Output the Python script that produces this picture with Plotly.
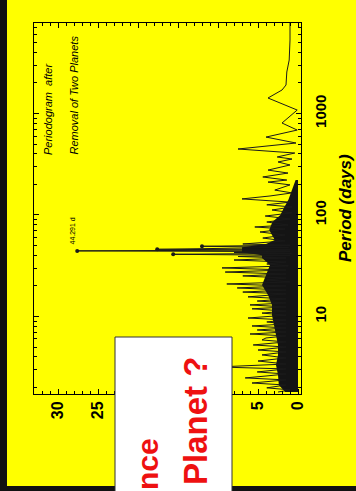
import plotly.graph_objects as go

# ---------------- data ----------------
period_days = [7790, 5300, 3365, 2565, 1910, 1705, 1422, 1082, 806, 687,
               586, 512, 447, 408, 373, 356, 333, 311, 277, 259,
               237, 221, 211, 198, 176, 165, 154, 144, 134, 126,
               120, 112, 105, 97.7, 91.4, 85.3, 79.7, 76.2, 72.8, 68.0,
               63.5, 59.3, 55.5, 51.8, 50.3, 49.2, 47.9, 45.9, 45.2, 44.291,
               43.6, 42.7, 41.9, 41.0, 40.1, 39.0, 37.7, 36.0, 34.4, 32.9,
               31.5, 30.1, 28.7, 27.4, 26.2, 25.1, 23.9, 22.9, 21.9, 20.9,
               20.0, 19.1, 18.2, 17.4, 16.7, 15.6, 14.9, 14.2, 13.6, 13.0,
               12.4, 11.9, 11.3, 10.8, 10.3, 9.66, 9.24, 8.83, 8.44, 8.06,
               7.70, 7.36, 7.03, 6.72, 6.43, 6.14, 5.87, 5.61, 5.24, 5.00,
               4.67, 4.47, 4.18, 3.90, 3.64, 3.40, 3.18, 3.04, 2.84, 2.71,
               2.59, 2.48, 2.37, 2.21, 2.11, 1.98, 1.89, 1.80]
power = [1.0, 1.0, 1.1, 1.4, 1.5, 2.0, 3.75, 0.1, 2.0, 0.1,
         4.0, 0.25, 7.5, 0.4, 2.6, 0.75, 2.5, 1.0, 3.75, 1.25,
         4.4, 1.4, 3.75, 1.0, 2.9, 0.75, 3.5, 7.0, 1.0, 3.9,
         0.75, 3.25, 0.75, 4.1, 1.0, 3.9, 1.25, 5.4, 1.6, 4.75,
         1.6, 4.4, 1.6, 6.9, 1.0, 12.0, 1.2, 17.6, 1.0, 27.6,
         1.0, 8.0, 0.8, 15.6, 1.0, 7.5, 1.5, 8.0, 1.5, 3.9,
         1.2, 9.5, 1.5, 9.1, 1.5, 6.9, 1.5, 3.9, 1.0, 8.9,
         1.5, 7.6, 1.5, 6.9, 1.5, 6.25, 1.5, 5.1, 1.5, 6.0,
         1.5, 5.75, 1.5, 4.5, 1.5, 6.25, 1.5, 3.9, 1.5, 5.75,
         1.5, 5.1, 1.5, 6.0, 1.5, 4.0, 4.5, 1.5, 5.6, 1.5,
         5.0, 1.5, 4.5, 1.5, 5.0, 1.5, 10.0, 1.5, 5.1, 1.5,
         4.0, 6.6, 1.5, 5.75, 1.5, 3.9, 1.0, 2.5]

# dense (blackened) core of the periodogram
core_period = [221, 176, 141, 112, 100, 85.3, 71.1, 56.7, 51.8, 48.0,
               43.0, 40.1, 37.7, 32.2, 25.6, 20.4, 16.3, 13.0, 10.3, 8.25,
               6.57, 5.24, 4.18, 3.33, 2.65, 2.11, 1.80]
core_power = [0.3, 0.8, 1.2, 1.9, 2.2, 3.2, 3.6, 2.9, 4.0, 7.0,
              7.0, 4.5, 4.5, 3.5, 4.0, 4.5, 3.75, 3.25, 3.25, 3.0,
              2.75, 2.5, 2.5, 2.75, 2.5, 2.4, 1.6]

peak_period = [49.2, 45.9, 44.291, 41.0]
peak_power = [12.0, 17.6, 27.6, 15.6]

power_ticks = [0, 5, 10, 15, 20, 25, 30]
period_ticks = [10, 100, 1000]
period_minor = [2, 3, 4, 5, 6, 7, 8, 9, 20, 30, 40, 50, 60, 70, 80, 90,
                200, 300, 400, 500, 600, 700, 800, 900, 2000, 3000, 4000,
                5000, 6000, 7000, 8000, 9000]

# ---------------- layout helpers ----------------
W, H = 356, 491
L, R, T, B = 34, 55, 23, 97
PW, PH = W - L - R, H - T - B


def px(x):
    return (x - L) / PW


def py(y):
    return (H - B - y) / PH


YELLOW = "#FFFF00"

fig = go.Figure()
fig.add_trace(go.Scatter(x=core_power, y=core_period, mode="lines",
                         fill="tozerox", fillcolor="#141414",
                         line=dict(width=0, color="#141414"),
                         hoverinfo="skip", showlegend=False))
fig.add_trace(go.Scatter(x=power, y=period_days, mode="lines",
                         line=dict(color="#1a1a1a", width=1),
                         showlegend=False))
fig.add_trace(go.Scatter(x=peak_power, y=peak_period, mode="markers",
                         marker=dict(color="#1a1a1a", size=4),
                         showlegend=False))

axis_common = dict(showgrid=False, zeroline=False, showline=True,
                   linecolor="black", linewidth=1, mirror="allticks",
                   ticks="inside", ticklen=5, tickcolor="black",
                   tickangle=-90)

fig.update_layout(
    width=W, height=H,
    margin=dict(l=L, r=R, t=T, b=B, pad=0),
    paper_bgcolor=YELLOW, plot_bgcolor=YELLOW,
    showlegend=False,
    xaxis=dict(range=[33, -0.375], tickvals=power_ticks,
               ticktext=[str(v) for v in power_ticks],
               tickfont=dict(family="Arial, Liberation Sans", size=16,
                             color="black", weight=700),
               minor=dict(dtick=1, ticks="inside", ticklen=3,
                          tickcolor="black"),
               **axis_common),
    yaxis=dict(type="log", range=[0.236, 3.892], side="right",
               tickvals=period_ticks,
               ticktext=[str(v) for v in period_ticks],
               tickfont=dict(family="Arial, Liberation Sans", size=15,
                             color="black", weight=700),
               ticklabelstandoff=6,
               minor=dict(tickvals=period_minor, ticks="inside", ticklen=3,
                          tickcolor="black"),
               **axis_common),
)

shapes = [
    # black border strips of the slide
    dict(type="rect", xref="paper", yref="paper", x0=px(0), x1=px(7),
         y0=py(H), y1=py(0), fillcolor="#111111", line=dict(width=0),
         layer="above"),
    dict(type="rect", xref="paper", yref="paper", x0=px(0), x1=px(W),
         y0=py(H), y1=py(486), fillcolor="#111111", line=dict(width=0),
         layer="above"),
    # white caption box
    dict(type="rect", xref="paper", yref="paper", x0=px(115), x1=px(232),
         y0=py(H + 5), y1=py(337), fillcolor="white",
         line=dict(width=1, color="#333333"), layer="above"),
]
fig.update_layout(shapes=shapes)

ann = [
    dict(text="Periodogram  after", x=px(48), y=py(157), xanchor="center",
         yanchor="bottom", textangle=-90,
         font=dict(family="Arial, Liberation Sans", size=11, color="black",
                   style="italic")),
    dict(text="Removal of Two Planets", x=px(73), y=py(157),
         xanchor="center", yanchor="bottom", textangle=-90,
         font=dict(family="Arial, Liberation Sans", size=11, color="black",
                   style="italic")),
    dict(text="44.291 d", x=px(72), y=py(247), xanchor="center",
         yanchor="bottom", textangle=-90,
         font=dict(family="Arial, Liberation Sans", size=7, color="black")),
    dict(text="Period (days)", x=px(345), y=py(208), xanchor="center",
         yanchor="middle", textangle=-90,
         font=dict(family="Arial, Liberation Sans", size=17, color="black",
                   weight=700, style="italic")),
    dict(text="Planet ?", x=px(195), y=py(421), xanchor="center",
         yanchor="middle", textangle=-90,
         font=dict(family="Arial, Liberation Sans", size=33, color="#EE1111",
                   weight=700)),
    dict(text="nce", x=px(147), y=py(436), xanchor="center",
         yanchor="top", textangle=-90,
         font=dict(family="Arial, Liberation Sans", size=30, color="#EE1111",
                   weight=700)),
]
for a in ann:
    a.update(xref="paper", yref="paper", showarrow=False)
fig.update_layout(annotations=ann)

fig.write_html("out.html",
               config={"displayModeBar": False},
               post_script="document.body.style.margin='0';")
